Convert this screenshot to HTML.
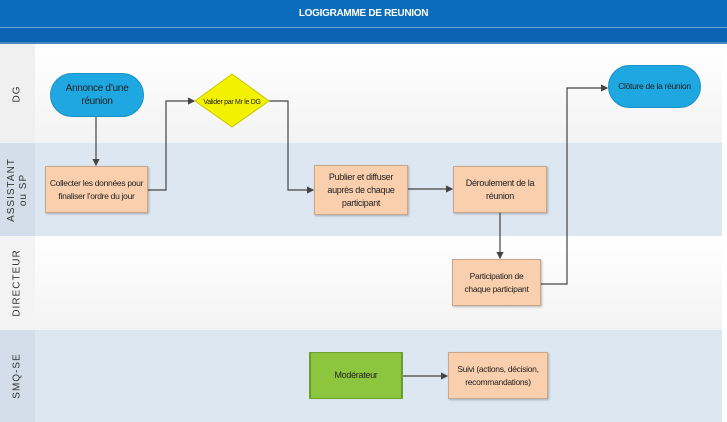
<!DOCTYPE html>
<html><head><meta charset="utf-8"><style>
body{margin:0;width:727px;height:422px;overflow:hidden;background:#fff;font-family:"Liberation Sans",sans-serif;}
.abs{position:absolute;box-sizing:border-box}
.t{display:flex;align-items:center;justify-content:center;text-align:center;font-size:9px;letter-spacing:-0.3px;color:#222;line-height:13px;white-space:nowrap;}
.box{background:#f9cfae;border:1px solid #c9a58a;box-shadow:1px 1px 2px rgba(0,0,0,.25)}
.lbl{position:absolute;left:0;width:35px;display:flex;align-items:center;justify-content:center}
.lbl span{transform:rotate(-90deg);white-space:nowrap;font-size:10px;letter-spacing:1px;color:#333;line-height:12px;text-align:center}
</style></head><body>
<div class="abs" style="left:0;top:0;width:727px;height:27px;background:#0b6cbd;color:#fff;font-weight:bold;font-size:10px;letter-spacing:-0.3px;display:flex;align-items:center;justify-content:center">LOGIGRAMME DE REUNION</div>
<div class="abs" style="left:0;top:27px;width:727px;height:1px;background:#6aa7dc"></div>
<div class="abs" style="left:0;top:28px;width:727px;height:15px;background:#0a63b2"></div>
<div class="abs" style="left:0;top:42px;width:727px;height:2px;background:#4a86c0"></div>
<div class="abs" style="left:35px;top:44px;width:687px;height:99px;background:linear-gradient(#fff,#f3f3f3)"></div>
<div class="abs" style="left:0;top:44px;width:35px;height:99px;background:#f0f0f0"></div>
<div class="abs" style="left:35px;top:143px;width:687px;height:93px;background:#dde7f1"></div>
<div class="abs" style="left:0;top:143px;width:35px;height:93px;background:#d3deea"></div>
<div class="abs" style="left:35px;top:236px;width:687px;height:94px;background:linear-gradient(#fff,#f3f3f3)"></div>
<div class="abs" style="left:0;top:236px;width:35px;height:94px;background:#f3f3f3"></div>
<div class="abs" style="left:35px;top:330px;width:687px;height:92px;background:#dde7f1"></div>
<div class="abs" style="left:0;top:330px;width:35px;height:92px;background:#d3deea"></div>
<div class="abs" style="left:722px;top:44px;width:5px;height:378px;background:#fff"></div>
<div class="lbl" style="top:44px;height:99px"><span>DG</span></div>
<div class="lbl" style="top:143px;height:93px"><span>ASSISTANT<br>ou SP</span></div>
<div class="lbl" style="top:236px;height:94px"><span>DIRECTEUR</span></div>
<div class="lbl" style="top:330px;height:92px"><span>SMQ-SE</span></div>

<svg class="abs" style="left:0;top:0" width="727" height="422">
<defs><marker id="a" markerWidth="6" markerHeight="6" refX="5" refY="3" orient="auto"><path d="M0,0L6,3L0,6z" fill="#444"/></marker></defs>
<g stroke="#444" stroke-width="1.2" fill="none">
<path d="M96,117V165" marker-end="url(#a)"/>
<path d="M148,190H166V101H194" marker-end="url(#a)"/>
<path d="M269,101H288V190H313" marker-end="url(#a)"/>
<path d="M408,189H452" marker-end="url(#a)"/>
<path d="M500,213V258" marker-end="url(#a)"/>
<path d="M541,284H567V88H607" marker-end="url(#a)"/>
<path d="M403,376H447" marker-end="url(#a)"/>
</g>
<polygon points="232,74 269,101 232,127 195,101" fill="#f2f200" stroke="#c8c800"/>
<text x="232" y="104" font-size="7" letter-spacing="-0.3" text-anchor="middle" fill="#222" font-family="Liberation Sans, sans-serif">Valider par Mr le DG</text>
</svg>

<div class="abs t" style="left:50px;top:73px;width:94px;height:44px;background:#1ea7e1;border-radius:22px;border:1px solid #1a8fc2;font-size:10px">Annonce d’une<br>réunion</div>
<div class="abs t" style="left:608px;top:65px;width:93px;height:43px;background:#1ea7e1;border-radius:22px;border:1px solid #1a8fc2;font-size:8.5px">Clôture de la réunion</div>
<div class="abs t box" style="left:45px;top:166px;width:103px;height:47px;font-size:8.5px">Collecter les données pour<br>finaliser l’ordre du jour</div>
<div class="abs t box" style="left:314px;top:165px;width:94px;height:50px">Publier et diffuser<br>auprès de chaque<br>participant</div>
<div class="abs t box" style="left:453px;top:166px;width:94px;height:47px">Déroulement de la<br>réunion</div>
<div class="abs t box" style="left:452px;top:259px;width:89px;height:47px;font-size:8.5px">Participation de<br>chaque participant</div>
<div class="abs t" style="left:309px;top:352px;width:94px;height:47px;background:#8cc63f;border:1px solid #6fa32e;box-shadow:inset 5px 0 0 -4px #5f9a2a,inset -5px 0 0 -4px #5f9a2a">Modérateur</div>
<div class="abs t box" style="left:448px;top:352px;width:100px;height:47px;font-size:8.5px">Suivi (actions, décision,<br>recommandations)</div>
</body></html>
